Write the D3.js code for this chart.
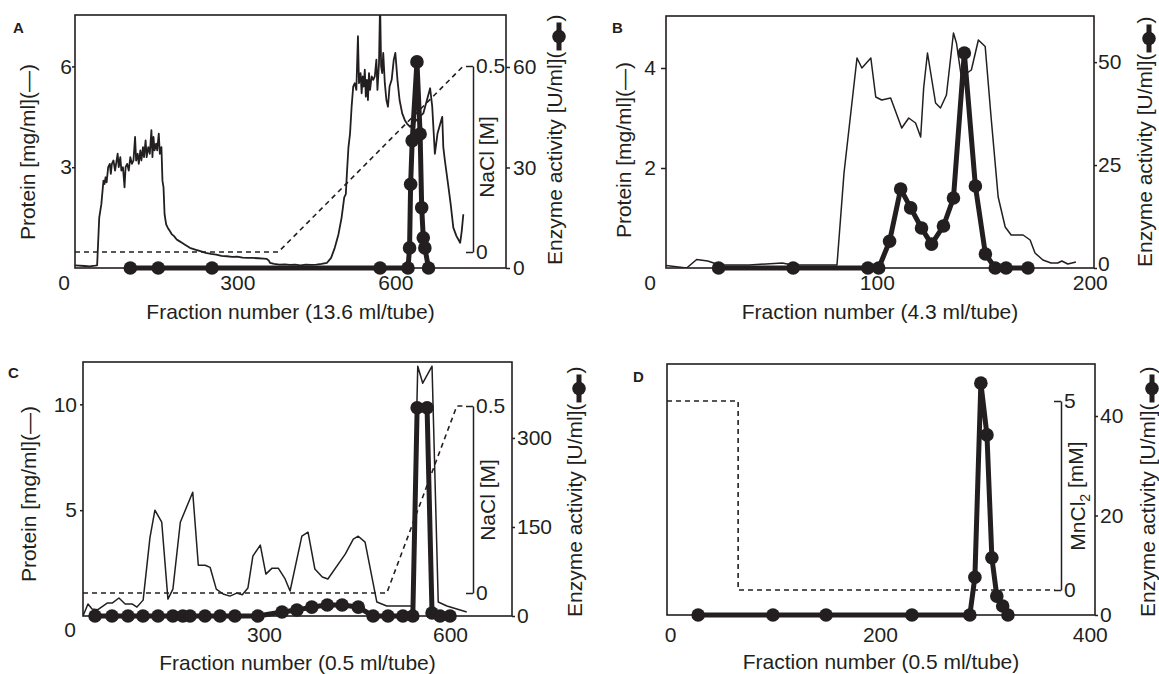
<!DOCTYPE html>
<html>
<head>
<meta charset="utf-8">
<script src="https://d3js.org/d3.v7.min.js"></script>
<style>
  body { margin: 0; background: #fff; }
  svg text { font-family: "Liberation Sans", Arial, Helvetica, sans-serif; fill: #231f20; }
</style>
</head>
<body>
<div id="chart"></div>
<script>
// panel A : [fraction, value]
var proteinA = [[-8,0.08],[10,0.06],[20,0.05],[30,0.07],[34,0.08],[38,1.5],[42,1.9],[46,2.6],[48,2.5],[50,2.7],[52,2.55],[55,3.0],[58,3.1],[60,2.8],[62,3.1],[65,3.2],[68,2.9],[70,3.1],[73,3.4],[75,3.0],[78,3.3],[80,2.9],[83,3.0],[86,2.4],[88,3.0],[91,3.1],[94,2.9],[97,3.3],[100,3.1],[103,3.2],[106,3.9],[108,3.2],[111,3.4],[113,3.1],[116,3.5],[118,3.2],[121,3.6],[123,3.3],[126,3.8],[128,3.3],[131,3.6],[134,3.4],[137,4.1],[139,3.3],[141,3.9],[143,3.5],[146,3.7],[148,3.5],[151,4.0],[153,3.4],[156,3.6],[158,2.6],[160,2.4],[162,1.6],[165,1.3],[168,1.2],[172,1.1],[176,1.0],[180,0.95],[185,0.85],[190,0.8],[195,0.75],[200,0.7],[210,0.6],[220,0.55],[230,0.5],[240,0.45],[250,0.42],[260,0.4],[270,0.36],[280,0.35],[290,0.33],[300,0.34],[310,0.31],[320,0.3],[330,0.3],[340,0.29],[350,0.28],[356,0.27],[360,0.22],[362,0.15],[370,0.12],[380,0.1],[390,0.11],[400,0.09],[410,0.1],[420,0.08],[430,0.1],[440,0.09],[450,0.1],[460,0.12],[470,0.15],[478,0.3],[485,0.6],[492,1.0],[498,1.5],[503,2.1],[506,2.2],[508,2.8],[511,3.6],[514,4.0],[517,4.8],[520,5.4],[523,5.5],[526,5.3],[529,6.9],[531,5.5],[534,5.8],[536,5.2],[538,5.7],[540,5.4],[542,5.9],[544,5.1],[546,5.6],[548,5.0],[550,5.8],[552,5.3],[555,5.7],[558,5.6],[561,5.7],[564,6.2],[566,5.3],[569,6.1],[571,7.9],[573,6.0],[575,5.8],[577,6.4],[580,5.5],[583,5.0],[586,4.8],[589,5.4],[593,5.6],[597,6.2],[600,6.4],[604,5.6],[608,5.0],[613,4.6],[618,4.4],[622,4.3],[628,4.2],[634,4.3],[640,4.4],[646,4.5],[653,4.6],[660,5.0],[666,5.35],[670,4.8],[675,3.4],[680,4.0],[689,4.5],[691,3.6],[694,3.2],[700,2.5],[705,1.9],[710,1.2],[716,0.95],[723,0.75],[726,1.1],[729,1.6]];
var naclA = [[-8,0],[378,0],[729,0.5]];
var enzymeA = [[97,0],[150,0],[252,0],[571,0],[624,0],[627,6],[629,25],[632,38],[641,61.5],[647,40],[650,18],[653,9],[656,6],[663,0]];

// panel B
var proteinB = [[1,0.05],[10.7,0],[15.4,0.17],[20.6,0.14],[26.2,0.06],[40,0.06],[55.6,0.1],[60.3,0.06],[81.3,0.06],[84.6,1.9],[90.7,4.2],[93,4.0],[97.2,4.2],[99.5,3.42],[102.3,3.36],[106.5,3.4],[111.7,2.8],[115,3.0],[118.2,2.9],[120.6,2.62],[122,3.6],[123.8,4.3],[127.6,3.3],[129.9,3.2],[132.7,3.46],[136,4.7],[137.4,4.5],[139.7,3.82],[144.4,3.96],[147.7,4.56],[150.9,4.43],[153.7,3.0],[157,1.42],[160.3,0.82],[163.1,0.66],[168.7,0.66],[172,0.56],[174.3,0.3],[178,0.16],[181.8,0.1],[185,0.1],[186.9,0.14],[189.7,0.08],[193.5,0.12]];
var enzymeB = [[25.7,0],[60.7,0],[95.8,0],[100.9,0],[106,6.5],[111.2,19.2],[115.9,14.6],[121,9.7],[125.7,5.8],[131.3,10.2],[136,17],[141.1,52.2],[146.3,19.9],[151,3.4],[155.6,0],[160.7,0],[171,0]];

// panel C
var proteinC = [[8,0],[16,0.57],[22.6,0.33],[32,0.3],[47,0.61],[55,0.61],[66,0.85],[76,0.57],[87,0.57],[95,0.42],[105,0.75],[116,3.7],[124,5.0],[135,4.43],[145,0.8],[153,1.27],[165,4.43],[185,5.85],[194,2.4],[205,2.4],[213,2.3],[223,1.27],[234,1.04],[245,0.94],[256,1.08],[265,1.0],[274,1.32],[282,2.83],[294,3.35],[303,1.98],[313,2.26],[323,2.26],[334,1.75],[342,1.18],[361,3.77],[371,3.96],[382,2.22],[394,1.84],[403,1.75],[431,2.92],[444,3.63],[452,3.77],[463,3.49],[482,0.66],[498,0.47],[516,0.47],[539,0.47],[548,11.8],[556,11.0],[571,11.8],[581,0.66],[595,0.47],[627,0.19]];
var naclC = [[8,0],[498,0],[611,0.5],[621,0.5]];
var enzymeC = [[27.4,0],[54.8,0],[80.6,0],[104.8,0],[129,0],[153,0],[169,0],[180.6,0],[204.8,0],[229,0],[253,0],[290,0],[329,6.7],[353,10],[377,15],[402,18.5],[426,18.5],[452,15],[476,0],[500,0],[524,0],[540,0],[547,351],[563,351],[571,5],[584,0],[600,0]];

// panel D
var mnclD = [[-3,5],[64.8,5],[64.8,0],[367,0]];
var enzymeD = [[26.7,0],[98,0],[148.6,0],[230.5,0],[285.7,0],[290.5,7.6],[296.2,46.6],[302,36.2],[306.7,11.5],[311.4,3.8],[317,1.8],[322,0]];

// tick values
var xTicksA = [300, 600], xTicksB = [100, 200], xTicksC = [300, 600], xTicksD = [0, 200, 400];
var protTicksA = [3, 6], protTicksB = [2, 4], protTicksC = [5, 10];
var enzTicksA = [0, 30, 60], enzTicksB = [0, 25, 50], enzTicksC = [0, 150, 300], enzTicksD = [0, 20, 40];
var saltTicksNaCl = [0, 0.5], saltTicksMn = [0, 5];

var svgWidth = 1159;
var svgHeight = 674;
var ink = "#231f20";
var fs = 21;
var fmt = d3.format("~g");

var svg = d3.select("#chart")
  .append("svg")
  .attr("width", svgWidth)
  .attr("height", svgHeight);

function styleAxis(sel, size) {
  sel.select(".domain").remove();
  sel.selectAll("line").attr("stroke", ink).attr("stroke-width", 1.5);
  sel.selectAll("text").attr("font-size", size || fs).attr("fill", ink)
    .style("font-family", '"Liberation Sans", Arial, sans-serif');
}

function drawPanel(p) {
  var w = p.box.w, h = p.box.h;
  var g = svg.append("g").attr("transform", `translate(${p.box.x}, ${p.box.y})`);

  g.append("clipPath").attr("id", "clip" + p.name)
    .append("rect").attr("width", w).attr("height", h);

  var x = d3.scaleLinear().domain(p.xDomain).range([0, w]);
  var yEnz = d3.scaleLinear().domain(p.enzDomain).range([h, 0]);

  // salt gradient (dashed) and its bracket axis
  if (p.salt) {
    var ySalt = d3.scaleLinear().domain(p.saltDomain).range(p.saltRange);
    g.append("path")
      .datum(p.salt)
      .attr("fill", "none")
      .attr("stroke", ink)
      .attr("stroke-width", 1.6)
      .attr("stroke-dasharray", "5,4")
      .attr("d", d3.line().x(d => x(d[0])).y(d => ySalt(d[1])));

    var saltAxis = g.append("g")
      .attr("transform", `translate(${p.saltX}, 0)`)
      .call(d3.axisRight(ySalt).tickValues(p.saltTicks).tickFormat(fmt)
        .tickSizeInner(-7).tickSizeOuter(0).tickPadding(3));
    saltAxis.selectAll("line").attr("stroke", ink).attr("stroke-width", 1.5);
    saltAxis.select(".domain").attr("stroke", ink).attr("stroke-width", 1.5);
    saltAxis.selectAll("text").attr("font-size", fs).attr("fill", ink)
      .style("font-family", '"Liberation Sans", Arial, sans-serif');

    var st = svg.append("text")
      .attr("transform", `translate(${p.saltLabel[0]}, ${p.saltLabel[1]}) rotate(-90)`)
      .attr("text-anchor", "middle")
      .attr("dy", "0.35em")
      .attr("font-size", fs);
    if (p.name === "D") {
      st.append("tspan").text("MnCl");
      st.append("tspan").attr("font-size", 14).attr("dy", "0.3em").text("2");
      st.append("tspan").attr("dy", "-0.3em").text(" [mM]");
    } else {
      st.text("NaCl [M]");
    }
  }

  // protein (thin line)
  if (p.protein) {
    var yProt = d3.scaleLinear().domain(p.protDomain).range([h, 0]);
    g.append("path")
      .datum(p.protein)
      .attr("clip-path", `url(#clip${p.name})`)
      .attr("fill", "none")
      .attr("stroke", ink)
      .attr("stroke-width", p.protWidth)
      .attr("stroke-linejoin", "round")
      .attr("d", d3.line().x(d => x(d[0])).y(d => yProt(d[1])));

    var leftAxis = g.append("g")
      .call(d3.axisLeft(yProt).tickValues(p.protTicks).tickFormat(fmt)
        .tickSize(p.leftTick[0]).tickPadding(p.leftTick[1]));
    styleAxis(leftAxis);

    // shared corner zero
    svg.append("text")
      .attr("x", p.corner[0])
      .attr("y", p.corner[1])
      .attr("dy", "0.35em")
      .attr("text-anchor", "middle")
      .attr("font-size", fs)
      .text("0");

    svg.append("text")
      .attr("transform", `translate(${p.protLabel[0]}, ${p.protLabel[1]}) rotate(-90)`)
      .attr("text-anchor", "middle")
      .attr("dy", "0.35em")
      .attr("font-size", fs)
      .text("Protein [mg/ml](\u2014)");
  }

  // enzyme activity (thick line with dots)
  g.append("path")
    .datum(p.enzyme)
    .attr("fill", "none")
    .attr("stroke", ink)
    .attr("stroke-width", 5)
    .attr("stroke-linejoin", "round")
    .attr("d", d3.line().x(d => x(d[0])).y(d => yEnz(d[1])));

  g.selectAll("circle.enz")
    .data(p.enzyme)
    .enter()
    .append("circle")
    .attr("class", "enz")
    .attr("cx", d => x(d[0]))
    .attr("cy", d => yEnz(d[1]))
    .attr("r", 6.8)
    .attr("fill", ink);

  // frame
  g.append("rect")
    .attr("width", w)
    .attr("height", h)
    .attr("fill", "none")
    .attr("stroke", ink)
    .attr("stroke-width", 1.6);

  var bottomAxis = g.append("g")
    .attr("transform", `translate(0, ${h})`)
    .call(d3.axisBottom(x).tickValues(p.xTicks).tickFormat(fmt).tickSize(0).tickPadding(p.xPad));
  styleAxis(bottomAxis);

  var rightAxis = g.append("g")
    .attr("transform", `translate(${w}, 0)`)
    .call(d3.axisRight(yEnz).tickValues(p.enzTicks).tickFormat(fmt)
      .tickSize(p.rightTick[0]).tickPadding(p.rightTick[1]));
  styleAxis(rightAxis);
  // zero label sits a little above the corner
  rightAxis.selectAll("text").filter(d => d === 0).attr("dy", p.zeroDy || "0.32em");

  // x title
  svg.append("text")
    .attr("x", p.box.x + w / 2)
    .attr("y", p.xTitleY)
    .attr("dy", "0.35em")
    .attr("text-anchor", "middle")
    .attr("font-size", fs)
    .text(p.xTitle);

  // enzyme title with legend symbol
  var eg = svg.append("g")
    .attr("transform", `translate(${p.enzLabel[0]}, ${p.enzLabel[1]}) rotate(-90)`);
  var et = eg.append("text")
    .attr("dy", "0.35em")
    .attr("font-size", fs)
    .text("Enzyme activity [U/ml](");
  var len = et.node().getComputedTextLength();
  eg.append("line")
    .attr("x1", len + 1).attr("x2", len + 29)
    .attr("y1", 4).attr("y2", 4)
    .attr("stroke", ink).attr("stroke-width", 5);
  eg.append("circle")
    .attr("cx", len + 15).attr("cy", 4).attr("r", 6.8).attr("fill", ink);
  eg.append("text")
    .attr("x", len + 30)
    .attr("dy", "0.35em")
    .attr("font-size", fs)
    .text(")");

  // panel letter
  svg.append("text")
    .attr("x", p.letter[0])
    .attr("y", p.letter[1])
    .attr("font-size", 15)
    .attr("font-weight", "bold")
    .text(p.name);
}

drawPanel({
  name: "A", box: {x: 75, y: 15, w: 431, h: 253},
  xDomain: [-8, 810], protDomain: [0, 7.53], enzDomain: [0, 75.5],
  protein: proteinA, enzyme: enzymeA, protWidth: 1.8,
  salt: naclA, saltDomain: [0, 0.5], saltRange: [237, 51], saltX: 398, saltTicks: saltTicksNaCl,
  saltLabel: [487, 157],
  xTicks: xTicksA, protTicks: protTicksA, enzTicks: enzTicksA,
  leftTick: [3, 0], rightTick: [4, 3], xPad: 7.5,
  corner: [64, 283], protLabel: [28, 152], enzLabel: [555, 265],
  xTitle: "Fraction number (13.6 ml/tube)", xTitleY: 312, letter: [13, 33]
});

drawPanel({
  name: "B", box: {x: 666, y: 16, w: 428, h: 252},
  xDomain: [1, 202], protDomain: [0, 5.04], enzDomain: [0, 61.2],
  protein: proteinB, enzyme: enzymeB, protWidth: 1.5,
  xTicks: xTicksB, protTicks: protTicksB, enzTicks: enzTicksB,
  leftTick: [5, 5], rightTick: [3, 1], xPad: 7.5, zeroDy: "0.1em",
  corner: [650, 283], protLabel: [624, 150], enzLabel: [1145, 267],
  xTitle: "Fraction number (4.3 ml/tube)", xTitleY: 312, letter: [612, 33]
});

drawPanel({
  name: "C", box: {x: 83, y: 362, w: 429, h: 254},
  xDomain: [8, 700], protDomain: [0, 12], enzDomain: [0, 428],
  protein: proteinC, enzyme: enzymeC, protWidth: 1.5,
  salt: naclC, saltDomain: [0, 0.5], saltRange: [231, 44], saltX: 390, saltTicks: saltTicksNaCl,
  saltLabel: [488, 500],
  xTicks: xTicksC, protTicks: protTicksC, enzTicks: enzTicksC,
  leftTick: [3, 3], rightTick: [3, 2], xPad: 11.5,
  corner: [70, 630], protLabel: [29, 494], enzLabel: [575, 617],
  xTitle: "Fraction number (0.5 ml/tube)", xTitleY: 663, letter: [8, 378]
});

drawPanel({
  name: "D", box: {x: 667, y: 364, w: 428, h: 251},
  xDomain: [-3, 405], enzDomain: [0, 50.45],
  enzyme: enzymeD,
  salt: mnclD, saltDomain: [0, 5], saltRange: [226, 37], saltX: 394, saltTicks: saltTicksMn,
  saltLabel: [1078, 496],
  xTicks: xTicksD, enzTicks: enzTicksD,
  rightTick: [3, 2], xPad: 12,
  enzLabel: [1148, 617],
  xTitle: "Fraction number (0.5 ml/tube)", xTitleY: 662, letter: [633, 382]
});
</script>
</body>
</html>
